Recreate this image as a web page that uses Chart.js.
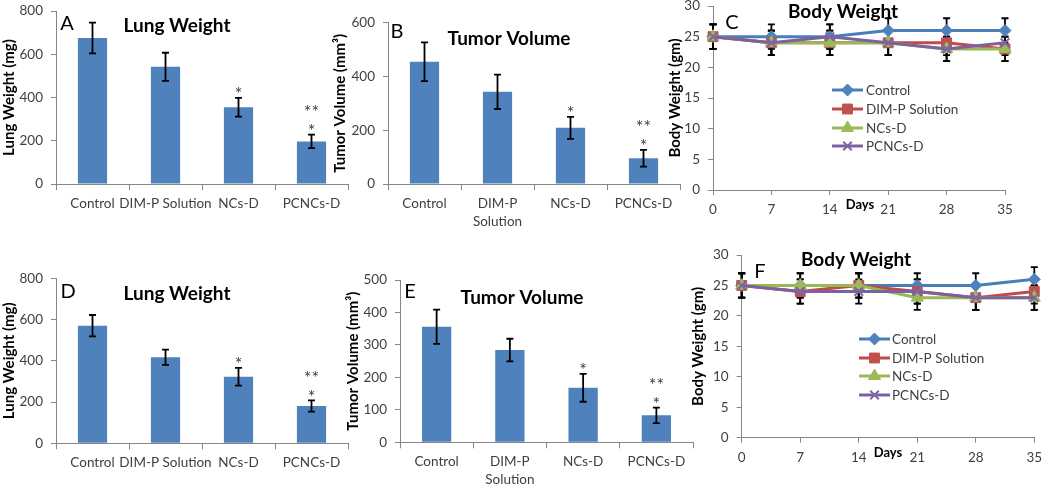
<!DOCTYPE html>
<html><head><meta charset="utf-8">
<script src="https://cdn.jsdelivr.net/npm/chart.js@4.4.1/dist/chart.umd.min.js"></script>
<style>
html,body{margin:0;padding:0;background:#fff;}
#wrap{position:relative;width:1050px;height:490px;overflow:hidden;background:#fff;}
canvas{position:absolute;}
</style></head><body><div id="wrap"></div>
<script>
// ---------- DATA ----------
const barCategoriesOneLine = ['Control', 'DIM-P Solution', 'NCs-D', 'PCNCs-D'];
const barCategoriesTwoLine = ['Control', ['DIM-P', 'Solution'], 'NCs-D', 'PCNCs-D'];

const lungWeightA    = [675, 542, 355, 197];
const lungWeightErrA = [71, 65, 43, 31];
const tumorVolumeB    = [455, 343, 209, 96];
const tumorVolumeErrB = [72, 64, 41, 31];
const lungWeightD    = [570, 417, 323, 181];
const lungWeightErrD = [52, 37, 43, 27];
const tumorVolumeE    = [356, 284, 168, 83];
const tumorVolumeErrE = [53, 35, 43, 24];

const sigSingle = ['', '', '*', '*'];
const sigDouble = ['', '', '', '**'];

const days = [0, 7, 14, 21, 28, 35];
const seriesNames = ['Control', 'DIM-P Solution', 'NCs-D', 'PCNCs-D'];

const bodyC_control = [25, 25, 25, 26, 26, 26];
const bodyC_dimp    = [25, 24, 24, 24, 24, 23];
const bodyC_ncs     = [25, 24, 24, 24, 23, 23];
const bodyC_pcncs   = [25, 24, 25, 24, 23, 24];

const bodyF_control = [25, 25, 25, 25, 25, 26];
const bodyF_dimp    = [25, 24, 25, 24, 23, 24];
const bodyF_ncs     = [25, 25, 25, 23, 23, 23];
const bodyF_pcncs   = [25, 24, 24, 24, 23, 23];

const bodyErr = [2, 2, 2, 2, 2, 2];

const lungTicks = [0, 200, 400, 600, 800];
const tumorTicksB = [0, 200, 400, 600];
const tumorTicksE = [0, 100, 200, 300, 400, 500];
const bodyTicks = [0, 5, 10, 15, 20, 25, 30];

// ---------- STYLE ----------
const FONT = 'Lato';
Chart.defaults.font.family = FONT;
const AXIS = '#868686';
const TICKTXT = '#404040';
const BAR = '#4F81BD';
const lineColors = ['#4A7EBB', '#BE4B48', '#98B954', '#7D60A0'];
const markColors = ['#4F81BD', '#C0504D', '#9BBB59', '#8064A2'];
const markStyles = ['rectRot', 'rect', 'triangle', 'crossRot'];
const markRadius = [6, 7, 7, 6];

const wrap = document.getElementById('wrap');
function makeCanvas(left, top, w, h) {
  const c = document.createElement('canvas');
  c.width = w; c.height = h;
  c.style.left = left + 'px'; c.style.top = top + 'px';
  c.style.width = w + 'px'; c.style.height = h + 'px';
  wrap.appendChild(c);
  return c;
}

function drawMarker(ctx, style, x, y, r, color) {
  ctx.save();
  ctx.fillStyle = color; ctx.strokeStyle = color; ctx.lineWidth = 1;
  ctx.beginPath();
  if (style === 'rectRot') {
    ctx.moveTo(x - r, y); ctx.lineTo(x, y - r); ctx.lineTo(x + r, y); ctx.lineTo(x, y + r); ctx.closePath();
    ctx.fill(); ctx.stroke();
  } else if (style === 'rect') {
    const s = r * Math.SQRT1_2;
    ctx.rect(x - s, y - s, 2 * s, 2 * s); ctx.fill(); ctx.stroke();
  } else if (style === 'triangle') {
    const a = 2 * Math.PI / 3;
    ctx.moveTo(x, y - r);
    ctx.lineTo(x + Math.sin(a) * r, y - Math.cos(a) * r);
    ctx.lineTo(x + Math.sin(2 * a) * r, y - Math.cos(2 * a) * r);
    ctx.closePath(); ctx.fill(); ctx.stroke();
  } else {
    const s = r * Math.SQRT1_2; ctx.lineWidth = 2;
    ctx.moveTo(x - s, y - s); ctx.lineTo(x + s, y + s);
    ctx.moveTo(x - s, y + s); ctx.lineTo(x + s, y - s); ctx.stroke();
  }
  ctx.restore();
}

// ---------- PLUGINS ----------
function drawErrors(chart, o) {
  if (!o || !o.errors) return;
  const ctx = chart.ctx, ys = chart.scales.y;
  ctx.save();
  ctx.strokeStyle = '#000'; ctx.lineWidth = 1.8;
  chart.data.datasets.forEach((ds, di) => {
    const errs = o.errors[di]; if (!errs) return;
    const meta = chart.getDatasetMeta(di);
    meta.data.forEach((el, i) => {
      const raw = ds.data[i];
      const v = typeof raw === 'object' ? raw.y : raw;
      const x = el.x, yt = ys.getPixelForValue(v + errs[i]), yb = ys.getPixelForValue(v - errs[i]);
      const c = 3.5;
      ctx.beginPath();
      ctx.moveTo(x, yt); ctx.lineTo(x, yb);
      ctx.moveTo(x - c, yt); ctx.lineTo(x + c, yt);
      ctx.moveTo(x - c, yb); ctx.lineTo(x + c, yb);
      ctx.stroke();
      ctx.fillStyle = TICKTXT; ctx.font = '18px ' + FONT; ctx.textAlign = 'center'; ctx.textBaseline = 'alphabetic';
      if (o.single && o.single[i]) ctx.fillText(o.single[i], x, yt - 8 + 10.5);
      if (o.double && o.double[i]) ctx.fillText(o.double[i], x, yt - 27 + 10.5);
    });
  });
  ctx.restore();
}
const errorBarPlugin = {
  id: 'errorBars',
  beforeDatasetsDraw(chart, args, o) { if (o && o.layer === 'below') drawErrors(chart, o); },
  afterDatasetsDraw(chart, args, o) { if (o && o.layer !== 'below') drawErrors(chart, o); }
};

const pageTextPlugin = {
  id: 'pageText',
  afterDraw(chart, args, o) {
    if (!o || !o.items) return;
    const ctx = chart.ctx;
    ctx.save();
    o.items.forEach(it => {
      ctx.font = it.font; ctx.fillStyle = it.color || '#000';
      ctx.textAlign = it.align || 'center'; ctx.textBaseline = 'alphabetic';
      ctx.fillText(it.text, it.x - o.offset[0], it.y - o.offset[1]);
    });
    ctx.restore();
  }
};

const insideLegendPlugin = {
  id: 'insideLegend',
  afterDraw(chart, args, o) {
    if (!o || o.x0 === undefined) return;
    const ctx = chart.ctx;
    ctx.save();
    chart.data.datasets.forEach((ds, i) => {
      const y = o.rows[i] - o.offset[1];
      const x0 = o.x0 - o.offset[0], x1 = o.x1 - o.offset[0];
      ctx.strokeStyle = ds.borderColor; ctx.lineWidth = 3;
      ctx.beginPath(); ctx.moveTo(x0, y); ctx.lineTo(x1, y); ctx.stroke();
      drawMarker(ctx, ds.pointStyle, (x0 + x1) / 2, y, ds.pointRadius, ds.pointBackgroundColor);
      ctx.fillStyle = TICKTXT; ctx.font = '13.5px ' + FONT; ctx.textAlign = 'left'; ctx.textBaseline = 'middle';
      ctx.fillText(ds.label, o.textX - o.offset[0], y + 1);
    });
    ctx.restore();
  }
};

// ---------- AXES ----------
function yAxis(tickValues, title, width, titlePad) {
  return {
    min: tickValues[0], max: tickValues[tickValues.length - 1],
    afterBuildTicks(s) { s.ticks = tickValues.map(v => ({ value: v })); },
    ticks: { padding: 8, color: TICKTXT, font: { size: 13.5, family: FONT } },
    grid: { drawOnChartArea: false, tickLength: 5, color: AXIS },
    border: { color: AXIS, width: 1 },
    title: { display: true, text: title, color: '#000', font: { size: 15, weight: 'bold', family: FONT }, padding: { top: titlePad, bottom: 0 } },
    afterFit(s) { s.width = width; }
  };
}
function xCat(height) {
  return {
    type: 'category',
    ticks: { autoSkip: false, maxRotation: 0, minRotation: 0, padding: 5, color: TICKTXT, font: { size: 13.5, family: FONT, lineHeight: 1.3 } },
    grid: { offset: true, drawOnChartArea: false, tickLength: 6, color: AXIS },
    border: { color: AXIS, width: 1 },
    afterFit(s) { s.height = height; }
  };
}
function xDays(height) {
  return {
    type: 'linear', min: days[0], max: days[days.length - 1],
    afterBuildTicks(s) { s.ticks = days.map(v => ({ value: v })); },
    ticks: { padding: 6, color: TICKTXT, font: { size: 13.5, family: FONT, lineHeight: 1.3 } },
    grid: { drawOnChartArea: false, tickLength: 5, color: AXIS },
    border: { color: AXIS, width: 1 },
    afterFit(s) { s.height = height; }
  };
}

const common = { animation: false, responsive: false, devicePixelRatio: 1, events: [] };

function barChart(p) {
  const cv = makeCanvas(p.left, p.top, p.w, p.h);
  new Chart(cv, {
    type: 'bar',
    data: { labels: p.labels, datasets: [{ data: p.values, backgroundColor: BAR, borderWidth: 0, barPercentage: 0.4, categoryPercentage: 1 }] },
    options: Object.assign({}, common, {
      layout: { padding: { left: 0, right: p.padR, top: p.padT, bottom: 0 } },
      scales: { x: xCat(p.xH), y: yAxis(p.yTicks, p.yTitle, p.yW, p.titlePad) },
      plugins: {
        legend: { display: false }, tooltip: { enabled: false },
        errorBars: { errors: [p.errors], single: sigSingle, double: sigDouble, layer: 'above' },
        pageText: { offset: [p.left, p.top], items: p.texts }
      }
    }),
    plugins: [errorBarPlugin, pageTextPlugin]
  });
}

function lineChart(p) {
  const cv = makeCanvas(p.left, p.top, p.w, p.h);
  const datasets = p.series.map((vals, i) => ({
    label: seriesNames[i],
    data: vals.map((v, k) => ({ x: days[k], y: v })),
    borderColor: lineColors[i], backgroundColor: markColors[i],
    pointBackgroundColor: markColors[i], pointBorderColor: markColors[i],
    pointStyle: markStyles[i], pointRadius: markRadius[i],
    pointBorderWidth: markStyles[i] === 'crossRot' ? 2 : 1,
    borderWidth: 3, tension: 0, clip: false, order: 3 - i
  }));
  new Chart(cv, {
    type: 'line',
    data: { datasets },
    options: Object.assign({}, common, {
      layout: { padding: { left: 0, right: p.padR, top: p.padT, bottom: 0 } },
      scales: { x: xDays(p.xH), y: yAxis(bodyTicks, 'Body Weight (gm)', p.yW, p.titlePad) },
      plugins: {
        legend: { display: false }, tooltip: { enabled: false },
        errorBars: { errors: p.series.map(() => bodyErr), layer: 'below' },
        pageText: { offset: [p.left, p.top], items: p.texts },
        insideLegend: Object.assign({ offset: [p.left, p.top] }, p.legend)
      }
    }),
    plugins: [errorBarPlugin, pageTextPlugin, insideLegendPlugin]
  });
}

const letterFont = '20px ' + FONT;
const titleFont = 'bold 19px ' + FONT;
const daysFont = 'bold 13px ' + FONT;

// A
barChart({ left: 0, top: -14, w: 352, h: 254, padR: 4, padT: 25, xH: 56, yW: 56, titlePad: 0,
  labels: barCategoriesOneLine, values: lungWeightA, errors: lungWeightErrA, yTicks: lungTicks, yTitle: 'Lung Weight (mg)',
  texts: [{ text: 'A', x: 67, y: 30, font: letterFont }, { text: 'Lung Weight', x: 177, y: 32, font: titleFont }] });
// B
barChart({ left: 330, top: -14, w: 352, h: 254, padR: 2, padT: 36.7, xH: 56, yW: 58, titlePad: 1,
  labels: barCategoriesTwoLine, values: tumorVolumeB, errors: tumorVolumeErrB, yTicks: tumorTicksB, yTitle: 'Tumor Volume (mm\u00B3)',
  texts: [{ text: 'B', x: 397, y: 38, font: letterFont }, { text: 'Tumor Volume', x: 509, y: 45, font: titleFont }] });
// C
lineChart({ left: 655, top: -14, w: 395, h: 254, padR: 45, padT: 20, xH: 50, yW: 58, titlePad: 11,
  series: [bodyC_control, bodyC_dimp, bodyC_ncs, bodyC_pcncs],
  legend: { x0: 832, x1: 863, textX: 866, rows: [90, 109, 128, 146] },
  texts: [{ text: 'C', x: 732, y: 29, font: letterFont }, { text: 'Body Weight', x: 843, y: 18, font: titleFont },
          { text: 'Days', x: 860, y: 209, font: daysFont }] });
// D
barChart({ left: 0, top: 230, w: 352, h: 260, padR: 4, padT: 48.3, xH: 46.7, yW: 56, titlePad: 0,
  labels: barCategoriesOneLine, values: lungWeightD, errors: lungWeightErrD, yTicks: lungTicks, yTitle: 'Lung Weight (mg)',
  texts: [{ text: 'D', x: 68, y: 298, font: letterFont }, { text: 'Lung Weight', x: 177, y: 300, font: titleFont }] });
// E
barChart({ left: 340, top: 230, w: 356, h: 260, padR: 3, padT: 50, xH: 47.7, yW: 60, titlePad: 4,
  labels: barCategoriesTwoLine, values: tumorVolumeE, errors: tumorVolumeErrE, yTicks: tumorTicksE, yTitle: 'Tumor Volume (mm\u00B3)',
  texts: [{ text: 'E', x: 410, y: 298, font: letterFont }, { text: 'Tumor Volume', x: 522, y: 304, font: titleFont }] });
// F
lineChart({ left: 685, top: 230, w: 365, h: 260, padR: 15.7, padT: 25, xH: 52.3, yW: 56.7, titlePad: 4,
  series: [bodyF_control, bodyF_dimp, bodyF_ncs, bodyF_pcncs],
  legend: { x0: 859, x1: 890, textX: 892, rows: [339, 358, 376, 395] },
  texts: [{ text: 'F', x: 760, y: 278, font: letterFont }, { text: 'Body Weight', x: 856, y: 266, font: titleFont },
          { text: 'Days', x: 888, y: 457, font: daysFont }] });
</script>
</body></html>
